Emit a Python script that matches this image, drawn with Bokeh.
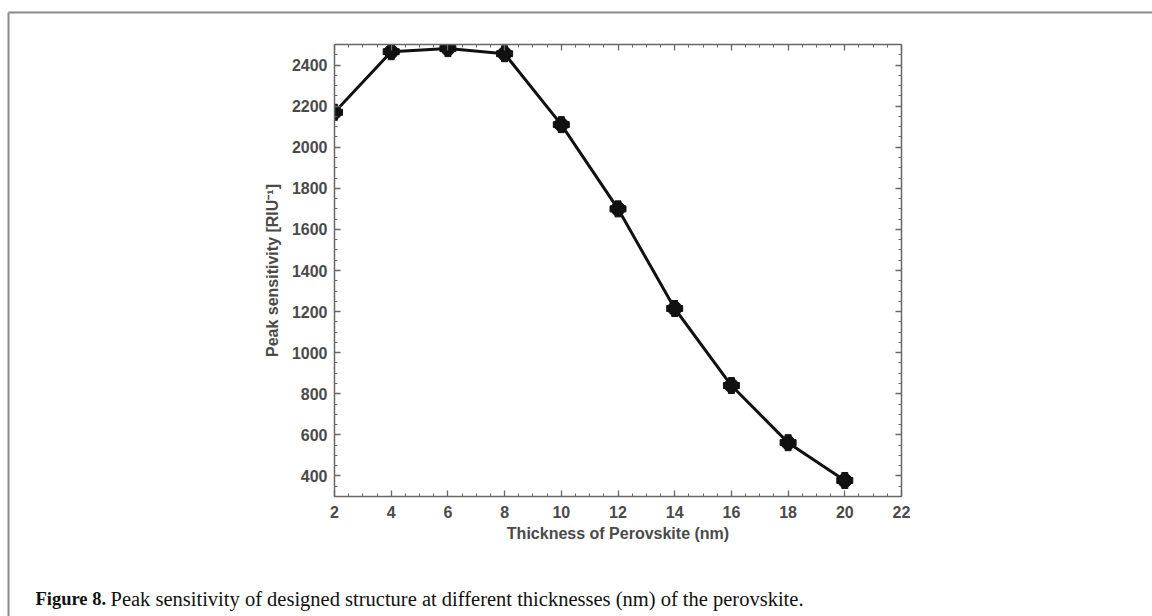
from bokeh.plotting import figure
from bokeh.models import LinearAxis, Range1d, Label, SingleIntervalTicker
from bokeh.embed import file_html
from bokeh.resources import INLINE

# ---- data ----
thickness = [2, 4, 6, 8, 10, 12, 14, 16, 18, 20]
sensitivity = [2170, 2465, 2480, 2455, 2110, 1700, 1215, 840, 562, 378]
x_label = "Thickness of Perovskite (nm)"
y_label = "Peak sensitivity [RIU\u207b\u00b9]"
caption_bold = "Figure 8."
caption_rest = "Peak sensitivity of designed structure at different thicknesses (nm) of the perovskite."

# ---- layout ----
W, H = 1152, 616
FL, FR, FT, FB = 334, 901, 44, 496

p = figure(width=W, height=H, x_range=Range1d(2, 22), y_range=Range1d(300, 2500),
           output_backend="svg", toolbar_location=None,
           min_border_left=FL, min_border_right=W - FR,
           min_border_top=FT, min_border_bottom=H - FB,
           x_axis_location=None, y_axis_location=None)
p.grid.visible = False
p.outline_line_color = None
p.background_fill_color = "white"
p.border_fill_color = "white"

AX = "#676767"
LBL = "#4a4a4a"

def style(ax, show_labels):
    ax.axis_line_color = AX
    ax.axis_line_width = 1.5
    ax.major_tick_line_color = AX
    ax.minor_tick_line_color = AX
    ax.major_tick_line_width = 1.3
    ax.minor_tick_line_width = 1
    ax.major_tick_in = 6
    ax.major_tick_out = 0
    ax.minor_tick_in = 3
    ax.minor_tick_out = 0
    if show_labels:
        ax.major_label_text_font = "Liberation Sans"
        ax.major_label_text_font_style = "bold"
        ax.major_label_text_font_size = "16px"
        ax.major_label_text_color = LBL
        ax.axis_label_text_font = "Liberation Sans"
        ax.axis_label_text_font_style = "bold"
        ax.axis_label_text_font_size = "16px"
        ax.axis_label_text_color = LBL
    else:
        ax.major_label_text_color = None
        ax.major_label_text_font_size = "0px"

def xt():
    return SingleIntervalTicker(interval=2, num_minor_ticks=4)

def yt():
    return SingleIntervalTicker(interval=200, num_minor_ticks=4)

xb = LinearAxis(ticker=xt(), axis_label=x_label)
style(xb, True)
xb.major_label_standoff = 9
xb.axis_label_standoff = 4
p.add_layout(xb, "below")

yl = LinearAxis(ticker=yt(), axis_label=y_label)
style(yl, True)
yl.major_label_standoff = 7
yl.axis_label_standoff = 8
p.add_layout(yl, "left")

xa = LinearAxis(ticker=xt())
style(xa, False)
p.add_layout(xa, "above")

yr = LinearAxis(ticker=yt())
style(yr, False)
p.add_layout(yr, "right")

# ---- data marks ----
p.line(thickness, sensitivity, line_color="#111111", line_width=3)
p.scatter(thickness, sensitivity, marker="circle", size=14,
          fill_color="#111111", line_color="#111111")
p.scatter(thickness, sensitivity, marker="plus", size=16,
          fill_color="#111111", line_color="#111111", line_width=1)

# ---- outer page frame (top & left edges), placed in side panels (not clipped) ----
top_edge = Label(x=8, y=12, x_units="canvas", y_units="canvas",
                 text=" ", text_font_size="0px", anchor="top_left",
                 padding=dict(left=0, right=1200, top=0, bottom=0),
                 border_line_color="#8a8a8a", border_line_width=2,
                 background_fill_color=None)
p.add_layout(top_edge, "above")
left_edge = Label(x=8, y=12, x_units="canvas", y_units="canvas",
                  text=" ", text_font_size="0px", anchor="top_left",
                  padding=dict(left=0, right=0, top=0, bottom=700),
                  border_line_color="#8a8a8a", border_line_width=2,
                  background_fill_color=None)
p.add_layout(left_edge, "left")

# ---- caption ----
cap1 = Label(x=35, y=598, x_units="canvas", y_units="canvas",
             text=caption_bold, text_font="Liberation Serif", text_font_style="bold",
             text_font_size="18.5px", text_color="#111111", text_baseline="alphabetic")
cap2 = Label(x=110, y=598, x_units="canvas", y_units="canvas",
             text=caption_rest, text_font="Liberation Serif",
             text_font_size="20.5px", text_color="#111111", text_baseline="alphabetic")
p.add_layout(cap1, "below")
p.add_layout(cap2, "below")

open("out.html", "w").write(file_html(p, INLINE))
